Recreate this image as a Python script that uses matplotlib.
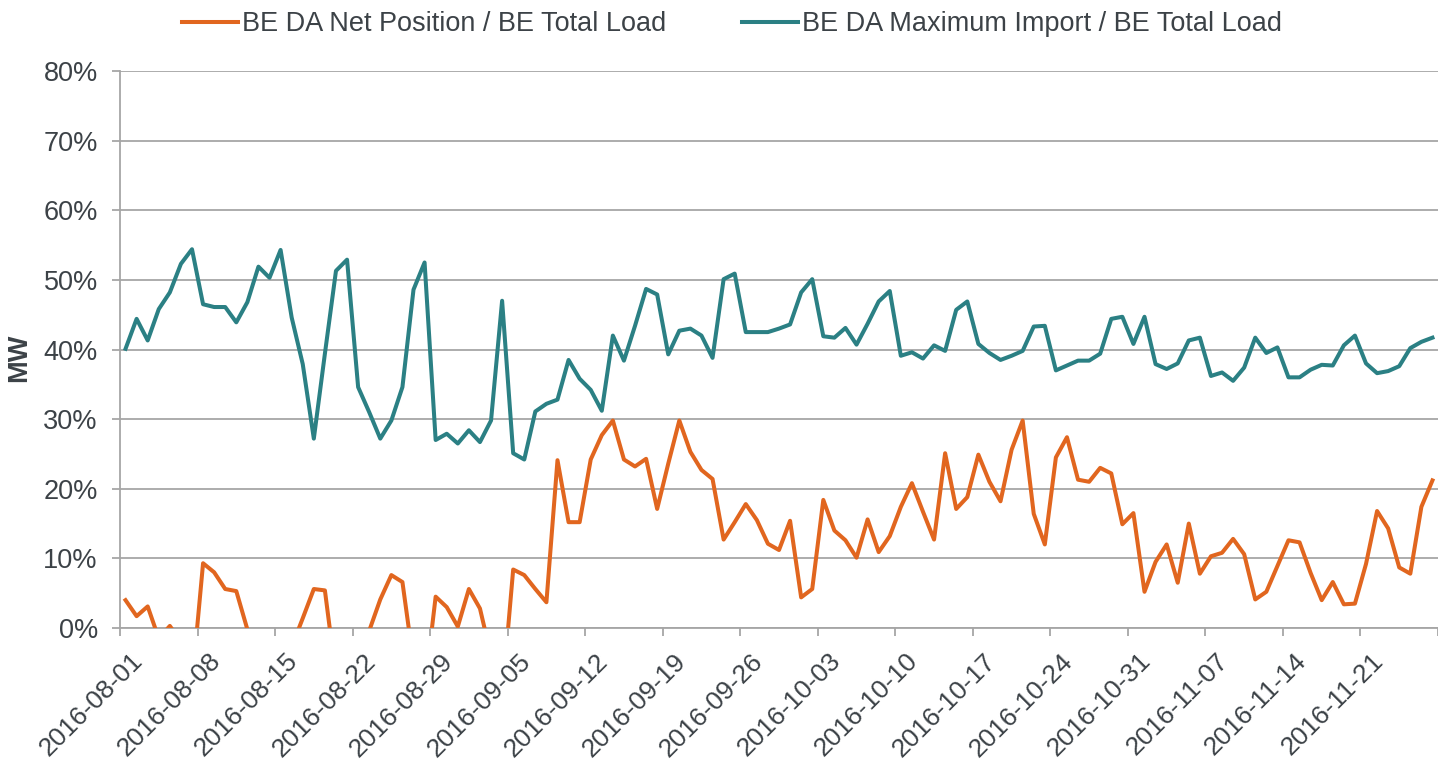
import numpy as np
import pandas as pd
import matplotlib
matplotlib.use("Agg")
import matplotlib.pyplot as plt
import matplotlib.transforms as mtransforms
from matplotlib.ticker import PercentFormatter

plt.rcParams['font.family'] = ['Liberation Sans', 'DejaVu Sans']

# daily categories, 2016-08-01 .. 2016-11-27
dates = pd.date_range('2016-08-01', periods=119, freq='D')
date_labels = [d.strftime('%Y-%m-%d') for d in dates]

# BE DA Net Position / BE Total Load (%), values below 0 are cut off by the axis
net_position = [
    4.0, 1.7, 3.1, -1.5, 0.3, -2.0, -8.0, 9.3, 8.0, 5.6,
    5.3, -0.2, -4.0, -7.0, -6.0, -2.7, 1.4, 5.6, 5.4, -7.0,
    -8.0, -5.0, -0.4, 4.1, 7.6, 6.6, -5.0, -9.0, 4.5, 3.0,
    0.2, 5.6, 2.8, -4.0, -10.0, 8.4, 7.6, 5.6, 3.7, 24.1,
    15.2, 15.2, 24.2, 27.7, 29.8, 24.2, 23.2, 24.3, 17.1, 23.6,
    29.8, 25.3, 22.7, 21.4, 12.7, 15.2, 17.8, 15.5, 12.1, 11.2,
    15.4, 4.4, 5.6, 18.4, 14.0, 12.6, 10.1, 15.6, 10.9, 13.2,
    17.4, 20.8, 16.7, 12.7, 25.1, 17.1, 18.8, 24.9, 21.0, 18.2,
    25.6, 29.8, 16.4, 12.0, 24.5, 27.4, 21.3, 21.0, 23.0, 22.2,
    14.9, 16.5, 5.2, 9.5, 12.0, 6.5, 15.0, 7.8, 10.3, 10.8,
    12.8, 10.6, 4.1, 5.2, 8.9, 12.6, 12.3, 7.9, 4.0, 6.6,
    3.4, 3.5, 9.2, 16.8, 14.3, 8.7, 7.8, 17.4, 21.2,
]

# BE DA Maximum Import / BE Total Load (%)
max_import = [
    40.1, 44.4, 41.3, 45.8, 48.2, 52.3, 54.4, 46.5, 46.1, 46.1,
    43.9, 46.8, 51.9, 50.3, 54.3, 44.6, 37.9, 27.2, 39.4, 51.3,
    52.9, 34.6, 31.0, 27.2, 29.8, 34.6, 48.6, 52.5, 27.0, 27.9,
    26.5, 28.4, 26.7, 29.8, 47.0, 25.1, 24.2, 31.1, 32.2, 32.8,
    38.5, 35.8, 34.2, 31.2, 42.0, 38.4, 43.4, 48.7, 47.9, 39.3,
    42.7, 43.0, 42.0, 38.8, 50.1, 50.9, 42.5, 42.5, 42.5, 43.0,
    43.6, 48.2, 50.1, 41.9, 41.7, 43.1, 40.7, 43.7, 46.9, 48.4,
    39.1, 39.6, 38.7, 40.6, 39.8, 45.7, 46.9, 40.8, 39.5, 38.5,
    39.1, 39.8, 43.3, 43.4, 37.0, 37.7, 38.4, 38.4, 39.4, 44.4,
    44.7, 40.8, 44.7, 37.9, 37.2, 38.0, 41.3, 41.7, 36.2, 36.7,
    35.5, 37.4, 41.7, 39.5, 40.3, 36.0, 36.0, 37.1, 37.8, 37.7,
    40.6, 42.0, 38.0, 36.6, 36.9, 37.6, 40.2, 41.1, 41.7,
]

orange = '#E1661F'
teal = '#2B8084'
grid_gray = '#A6A6A6'
text_color = '#3C4247'
fs = 19.5

fig = plt.figure(figsize=(14.38, 7.62), dpi=100)
ax = fig.add_axes([120 / 1438, 134 / 762, 1318 / 1438, 557 / 762])

x = np.arange(len(dates))
ax.plot(x, np.array(net_position) / 100, color=orange, lw=2.9,
        solid_joinstyle='round', label='BE DA Net Position / BE Total Load', zorder=3)
ax.plot(x, np.array(max_import) / 100, color=teal, lw=2.9,
        solid_joinstyle='round', label='BE DA Maximum Import / BE Total Load', zorder=3)

ax.set_ylim(0, 0.8)
ax.set_xlim(-0.5, 118.1)
ax.set_yticks(np.arange(0, 0.81, 0.1))
ax.yaxis.set_major_formatter(PercentFormatter(1.0, decimals=0))
ax.grid(axis='y', color=grid_gray, lw=1.3)
ax.set_axisbelow(True)

# ticks on category boundaries, labels on categories
ax.set_xticks(np.arange(-0.5, len(dates), 7))
ax.set_xticklabels([])
ax.set_xticks(np.arange(0, len(dates), 7), minor=True)
ax.set_xticklabels(date_labels[::7], minor=True, rotation=45, ha='right',
                   rotation_mode='anchor', fontsize=fs - 0.5, color=text_color)
ax.tick_params(axis='x', which='major', length=6, width=1.3, color=grid_gray, direction='out')
ax.tick_params(axis='x', which='minor', length=0, pad=15)
shift = mtransforms.ScaledTranslation(5 / 100, 0, fig.dpi_scale_trans)
for lab in ax.get_xticklabels(minor=True):
    lab.set_transform(lab.get_transform() + shift)

ax.tick_params(axis='y', length=6, width=1.3, color=grid_gray, labelsize=fs,
               labelcolor=text_color, pad=10)

for side in ['top', 'right']:
    ax.spines[side].set_visible(False)
for side in ['left', 'bottom']:
    ax.spines[side].set_color(grid_gray)
    ax.spines[side].set_linewidth(1.3)

ax.set_ylabel('MW', fontsize=fs, fontweight='bold', color=text_color)
ax.yaxis.set_label_coords(-0.0668, 0.485)

fig.legend(loc='center', bbox_to_anchor=(732 / 1438, 1 - 24 / 762), ncol=2,
           frameon=False, fontsize=fs, handlelength=2.07, handletextpad=0.15,
           columnspacing=2.8, labelcolor=text_color, borderaxespad=0)

fig.savefig('out.png', dpi=100)
